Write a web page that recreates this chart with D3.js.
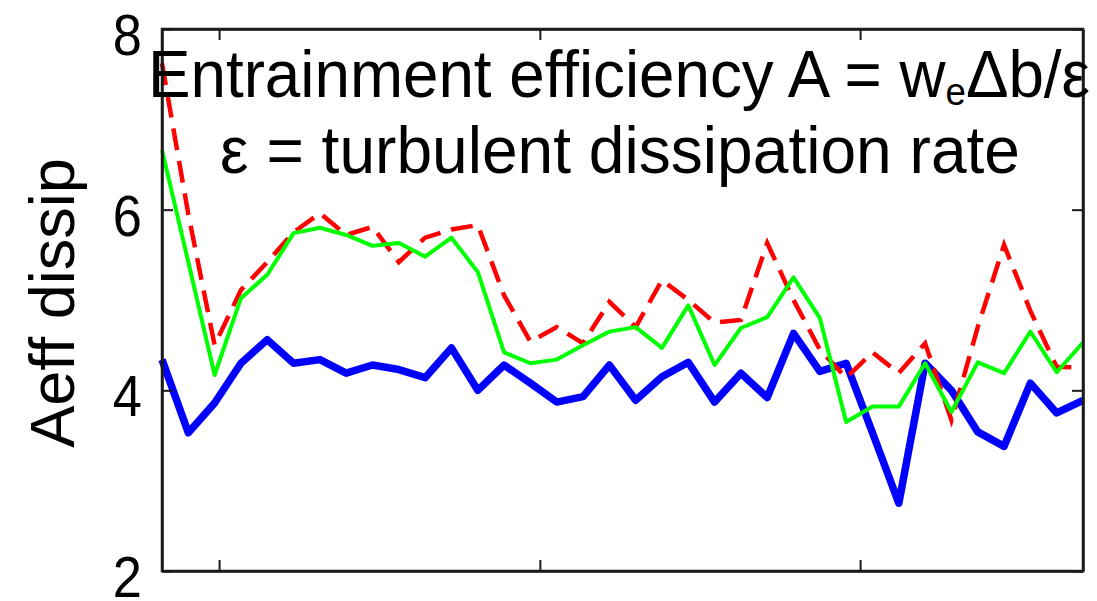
<!DOCTYPE html>
<html>
<head>
<meta charset="utf-8">
<script src="https://cdn.jsdelivr.net/npm/d3@7"></script>
<style>
  html, body { margin: 0; padding: 0; background: #fff; }
  svg { display: block; }
  text { font-family: "Liberation Sans", Arial, sans-serif; fill: #000; }
</style>
</head>
<body>
<svg id="chart" width="1097" height="601"></svg>
<script>
// Aeff dissip per sample, three estimates
const aeffBlue = [4.34, 3.53, 3.86, 4.30, 4.56, 4.30, 4.34, 4.19, 4.28, 4.23,
                  4.14, 4.47, 4.00, 4.28, 4.08, 3.87, 3.93, 4.28, 3.89, 4.15,
                  4.31, 3.87, 4.19, 3.92, 4.63, 4.21, 4.30, 3.53, 2.75, 4.30,
                  4.00, 3.54, 3.38, 4.08, 3.75, 3.89];
const aeffGreen = [6.66, 5.42, 4.17, 5.02, 5.28, 5.74, 5.80, 5.72, 5.60, 5.63,
                   5.48, 5.69, 5.31, 4.42, 4.30, 4.34, 4.50, 4.65, 4.70, 4.47,
                   4.94, 4.28, 4.69, 4.81, 5.25, 4.80, 3.65, 3.82, 3.82, 4.30,
                   3.76, 4.31, 4.19, 4.65, 4.20, 4.53];
const aeffRed = [7.62, 5.95, 4.50, 5.11, 5.42, 5.75, 5.96, 5.72, 5.81, 5.42,
                 5.69, 5.78, 5.83, 5.05, 4.54, 4.70, 4.52, 4.98, 4.70, 5.22,
                 5.00, 4.75, 4.78, 5.63, 5.00, 4.45, 4.14, 4.42, 4.19, 4.52,
                 3.67, 4.70, 5.61, 4.88, 4.26, 4.25];

const yTicks = [2, 4, 6, 8];
const xTicks = [2.17, 14.36, 26.53];   // sample-index positions of the x ticks
const titleLines = ["Entrainment efficiency A = w", "\u03b5 = turbulent dissipation rate"];
const yLabel = "Aeff dissip";

const svg = d3.select("#chart");
const plot = { left: 162, right: 1083, top: 29, bottom: 571 };

const x = d3.scaleLinear().domain([0, aeffBlue.length - 1]).range([plot.left, plot.right]);
const y = d3.scaleLinear().domain([2, 8]).range([plot.bottom, plot.top]);

const line = d3.line().x((d, i) => x(i)).y(d => y(d));

// data lines
svg.append("path").datum(aeffBlue)
  .attr("d", line).attr("fill", "none")
  .attr("stroke", "#0000ff").attr("stroke-width", 7.5)
  .attr("stroke-linejoin", "round");

svg.append("path").datum(aeffRed)
  .attr("d", line).attr("fill", "none")
  .attr("stroke", "#ff0000").attr("stroke-width", 4.5)
  .attr("stroke-dasharray", "22,11");

svg.append("path").datum(aeffGreen)
  .attr("d", line).attr("fill", "none")
  .attr("stroke", "#00ff00").attr("stroke-width", 4)
  .attr("stroke-linejoin", "round");

// axes with inward ticks on all four sides
const tickLen = 11;
const axStroke = "#1a1a1a";
const axW = 2.5;

svg.append("g").attr("transform", `translate(0,${plot.bottom})`)
  .call(d3.axisBottom(x).tickValues(xTicks).tickSizeInner(-tickLen).tickSizeOuter(0).tickFormat(""));
svg.append("g").attr("transform", `translate(0,${plot.top})`)
  .call(d3.axisTop(x).tickValues(xTicks).tickSizeInner(-tickLen).tickSizeOuter(0).tickFormat(""));
svg.append("g").attr("transform", `translate(${plot.left},0)`)
  .call(d3.axisLeft(y).tickValues(yTicks).tickSizeInner(-tickLen).tickSizeOuter(0).tickFormat(""));
svg.append("g").attr("transform", `translate(${plot.right},0)`)
  .call(d3.axisRight(y).tickValues(yTicks).tickSizeInner(-tickLen).tickSizeOuter(0).tickFormat(""));

svg.selectAll(".domain").attr("stroke", axStroke).attr("stroke-width", axW);
svg.selectAll(".tick line").attr("stroke", axStroke).attr("stroke-width", 2);

svg.append("rect")
  .attr("x", plot.left).attr("y", plot.top)
  .attr("width", plot.right - plot.left).attr("height", plot.bottom - plot.top)
  .attr("fill", "none").attr("stroke", axStroke).attr("stroke-width", axW);

// y tick labels
svg.append("g").selectAll("text").data(yTicks).join("text")
  .attr("transform", d => `translate(142,${y(d) + 26}) scale(0.92,1)`)
  .attr("text-anchor", "end")
  .attr("font-size", 57)
  .text(d => d);

// y axis label
svg.append("text")
  .attr("transform", "translate(74,303) rotate(-90)")
  .attr("text-anchor", "middle")
  .attr("font-size", 63)
  .text(yLabel);

// title block drawn over the plot
const t1 = svg.append("text")
  .attr("x", 148).attr("y", 97)
  .attr("font-size", 66)
  .attr("textLength", 942).attr("lengthAdjust", "spacingAndGlyphs");
t1.append("tspan").text(titleLines[0]);
t1.append("tspan").attr("font-size", 38).attr("dy", 8).text("e");
t1.append("tspan").attr("dy", -8).text("\u0394b/\u03b5");

svg.append("text")
  .attr("x", 220).attr("y", 173)
  .attr("font-size", 66)
  .attr("textLength", 800).attr("lengthAdjust", "spacingAndGlyphs")
  .text(titleLines[1]);
</script>
</body>
</html>
